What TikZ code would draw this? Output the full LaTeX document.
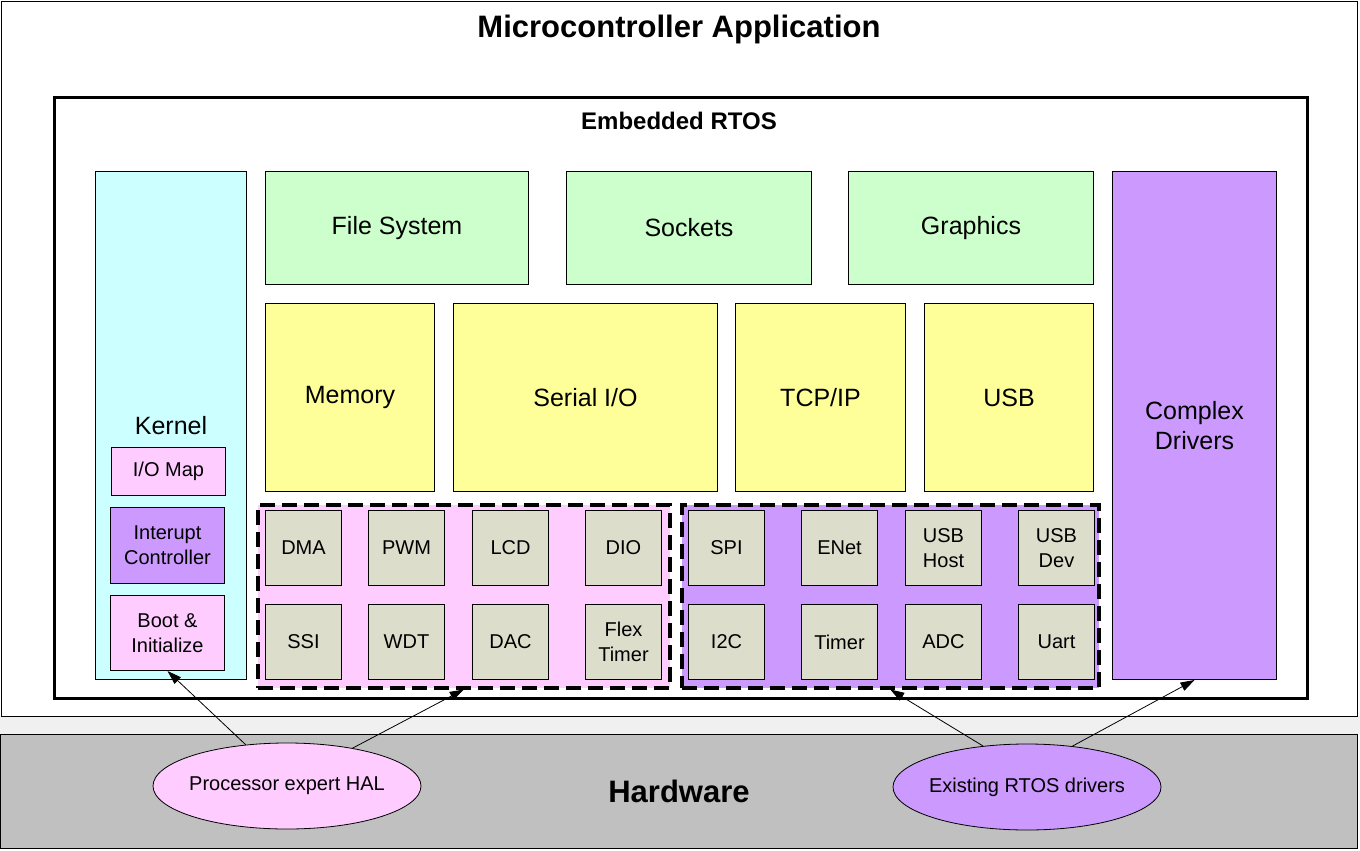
\documentclass[tikz,border=0pt]{standalone}
\usepackage{fontspec}
\setmainfont{Liberation Sans}
\usetikzlibrary{shapes.geometric,arrows.meta}

\definecolor{kernelcyan}{HTML}{CCFFFF}
\definecolor{svcgreen}{HTML}{CCFFCC}
\definecolor{drvyellow}{HTML}{FFFF99}
\definecolor{halpink}{HTML}{FFCCFF}
\definecolor{rtospurple}{HTML}{CC99FF}
\definecolor{perigray}{HTML}{DDDDCC}
\definecolor{hwgray}{HTML}{C0C0C0}

\begin{document}
\begin{tikzpicture}[x=1pt,y=-1pt,
    box/.style={draw,line width=1pt,inner sep=0pt,anchor=north west,align=center},
    big/.style={font=\fontsize{25}{30}\selectfont},
    small/.style={font=\fontsize{20}{25}\selectfont},
    periph/.style={box,small,fill=perigray,minimum width=76pt,minimum height=75pt},
    grp/.style={draw,line width=3.5pt,dash pattern=on 15pt off 7pt,inner sep=0pt,anchor=north west,minimum height=183pt},
    oval/.style={ellipse,draw,line width=0.8pt,small,inner xsep=-8pt,inner ysep=0pt,minimum width=268pt,minimum height=86pt},
    conn/.style={-{Triangle[length=14pt,width=9pt]},line width=0.8pt}]
    \useasboundingbox (0,0) rectangle (1360,851);
    \fill[black!6] (0,716) rectangle (1360,734);
    \node[box,fill=white,minimum width=1356pt,minimum height=715pt] (mcu) at (1,1) {};
    \node[font=\bfseries\fontsize{31}{36}\selectfont] (mcutitle) at (679,29) {Microcontroller Application};
    \node[box,line width=3pt,minimum width=1253pt,minimum height=601pt] (rtos) at (53,96) {};
    \node[font=\bfseries\fontsize{24}{28}\selectfont] (rtostitle) at (679,121) {Embedded RTOS};

    \node[box,big,fill=kernelcyan,minimum width=151pt,minimum height=508pt] (kernel) at (95,171) {Kernel};
    \node[box,small,fill=halpink,minimum width=114pt,minimum height=48pt] (iomap) at (111,447) {I/O Map};
    \node[box,small,fill=rtospurple,minimum width=114pt,minimum height=76pt] (irq) at (110,507) {Interupt\\Controller};
    \node[box,small,fill=halpink,minimum width=114pt,minimum height=75pt] (boot) at (110,595) {Boot \&\\Initialize};

    \node[box,big,fill=svcgreen,minimum width=263pt,minimum height=113pt] (fs) at (265,171) {File System};
    \node[box,big,fill=svcgreen,minimum width=245pt,minimum height=113pt] (sock) at (566,171) {Sockets};
    \node[box,big,fill=svcgreen,minimum width=245pt,minimum height=113pt] (gfx) at (848,171) {Graphics};
    \node[box,big,fill=drvyellow,minimum width=169pt,minimum height=188pt] (mem) at (265,303) {Memory};
    \node[box,big,fill=drvyellow,minimum width=264pt,minimum height=188pt] (sio) at (453,303) {Serial I/O};
    \node[box,big,fill=drvyellow,minimum width=170pt,minimum height=188pt] (tcpip) at (735,303) {TCP/IP};
    \node[box,big,fill=drvyellow,minimum width=169pt,minimum height=188pt] (usb) at (924,303) {USB};
    \node[box,big,fill=rtospurple,minimum width=164pt,minimum height=508pt] (cdrv) at (1112,171) {Complex\\Drivers};

    \node[grp,fill=halpink,minimum width=412pt] (halgrp) at (256,503) {};
    \node[grp,fill=rtospurple,minimum width=417pt] (drvgrp) at (680,503) {};
    \node[periph] (dma) at (265,510) {DMA};
    \node[periph] (pwm) at (368,510) {PWM};
    \node[periph] (lcd) at (472,510) {LCD};
    \node[periph] (dio) at (585,510) {DIO};
    \node[periph] (ssi) at (265,604) {SSI};
    \node[periph] (wdt) at (368,604) {WDT};
    \node[periph] (dac) at (472,604) {DAC};
    \node[periph] (ftm) at (585,604) {Flex\\Timer};
    \node[periph] (spi) at (688,510) {SPI};
    \node[periph] (enet) at (801,510) {ENet};
    \node[periph] (usbh) at (905,510) {USB\\Host};
    \node[periph] (usbd) at (1018,510) {USB\\Dev};
    \node[periph] (iic) at (688,604) {I2C};
    \node[periph] (tmr) at (801,604) {Timer};
    \node[periph] (adc) at (905,604) {ADC};
    \node[periph] (uart) at (1018,604) {Uart};

    \node[box,fill=hwgray,minimum width=1357pt,minimum height=114pt,font=\bfseries\fontsize{31}{36}\selectfont] (hw) at (0,734) {Hardware};
    \node[oval,fill=halpink] (hal) at (287,786) {Processor expert HAL};
    \node[oval,fill=rtospurple] (oldrv) at (1027,787) {Existing RTOS drivers};

    \draw[conn] (hal.135) -- (boot.south);
    \draw[conn] (hal.30) -- (halgrp.south);
    \draw[conn] (oldrv.137) -- (drvgrp.south);
    \draw[conn] (oldrv.42) -- (cdrv.south);
\end{tikzpicture}
\end{document}
